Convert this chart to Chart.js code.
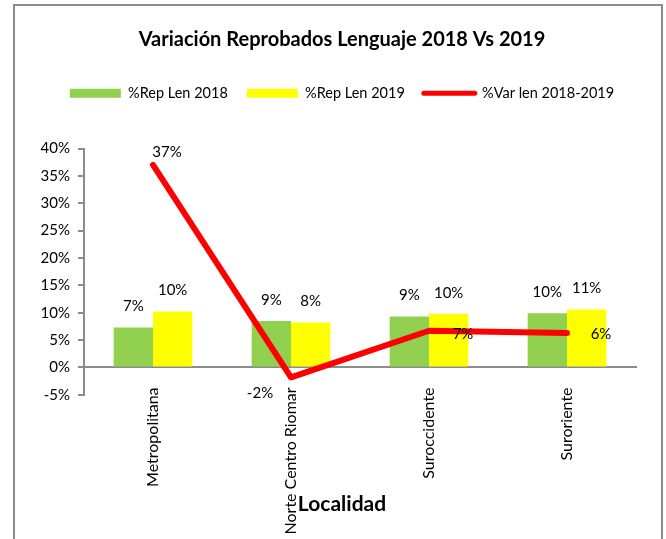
<!DOCTYPE html>
<html>
<head>
<meta charset="utf-8">
<script src="https://cdn.jsdelivr.net/npm/chart.js@4.4.1/dist/chart.umd.min.js"></script>
<style>
  html, body { margin: 0; padding: 0; background: #fff; overflow: hidden; }
  #wrap { position: relative; width: 666px; height: 539px; overflow: hidden; }
  #frame { position: absolute; left: 13px; top: 4px; width: 650px; height: 600px; box-sizing: border-box; border: 2px solid #8c8c8c; }
  #c { position: absolute; left: 0; top: 0; }
</style>
</head>
<body>
<div id="wrap">
  <div id="frame"></div>
  <canvas id="c" width="666" height="539"></canvas>
</div>
<script>
// ---- data ----
const categories = ['Metropolitana', 'Norte Centro Riomar', 'Suroccidente', 'Suroriente'];
const rep2018 = [7.3, 8.5, 9.3, 9.9];
const rep2019 = [10.2, 8.2, 9.8, 10.6];
const var2018_2019 = [37.0, -1.8, 6.7, 6.3];
const seriesNames = ['%Rep Len 2018', '%Rep Len 2019', '%Var len 2018-2019'];
const yTicks = [-5, 0, 5, 10, 15, 20, 25, 30, 35, 40];
const chartTitle = 'Variación Reprobados Lenguaje 2018 Vs 2019';
const xTitle = 'Localidad';

const FONT = 'Lato, "Open Sans", sans-serif';

const valueLabels = {
  id: 'valueLabels',
  afterDatasetsDraw(chart, args, opts) {
    const ctx = chart.ctx;
    ctx.save();
    ctx.font = '15px ' + FONT;
    ctx.fillStyle = '#000';
    ctx.textAlign = 'center';
    ctx.textBaseline = 'middle';
    chart.data.datasets.forEach((ds, di) => {
      const meta = chart.getDatasetMeta(di);
      meta.data.forEach((el, i) => {
        const v = ds.data[i];
        const txt = Math.round(v) + '%';
        let dx = 0, dy = -21;
        if (ds.type === 'line') { dx = opts.lineOffsets[i][0]; dy = opts.lineOffsets[i][1]; }
        ctx.fillText(txt, el.x + dx, el.y + dy);
      });
    });
    ctx.restore();
  }
};

new Chart(document.getElementById('c'), {
  data: {
    labels: categories,
    datasets: [
      { type: 'bar', label: seriesNames[0], data: rep2018, backgroundColor: '#92D050', borderWidth: 0,
        barPercentage: 1, categoryPercentage: 0.57, order: 2 },
      { type: 'bar', label: seriesNames[1], data: rep2019, backgroundColor: '#FFFF00', borderWidth: 0,
        barPercentage: 1, categoryPercentage: 0.57, order: 2 },
      { type: 'line', label: seriesNames[2], data: var2018_2019, borderColor: '#FF0000', backgroundColor: '#FF0000',
        borderWidth: 6, pointRadius: 0, tension: 0, borderJoinStyle: 'round', borderCapStyle: 'round', order: 1 }
    ]
  },
  options: {
    responsive: false,
    animation: false,
    layout: { padding: { left: 30, right: 12, top: 0, bottom: 0 } },
    plugins: {
      tooltip: { enabled: false },
      title: { display: true, text: chartTitle, color: '#000',
        font: { family: FONT, size: 20, weight: 'bold' }, padding: { top: 28, bottom: 15 } },
      subtitle: { display: true, position: 'bottom', text: xTitle, color: '#000',
        font: { family: FONT, size: 21, weight: 'bold' }, padding: { top: 97, bottom: 22 } },
      legend: {
        position: 'top',
        labels: {
          usePointStyle: true, pointStyleWidth: 51, boxHeight: 9, padding: 19, color: '#000',
          font: { family: FONT, size: 14.5 },
          sort: (a, b) => a.datasetIndex - b.datasetIndex,
          generateLabels: (chart) => {
            const items = Chart.defaults.plugins.legend.labels.generateLabels(chart);
            items.forEach(it => {
              const ds = chart.data.datasets[it.datasetIndex];
              if (ds.type === 'line') { it.pointStyle = 'line'; it.lineWidth = 5; it.strokeStyle = '#FF0000'; it.lineCap = 'round'; }
              else { it.pointStyle = 'rect'; it.lineWidth = 0; }
            });
            return items;
          }
        }
      },
      valueLabels: { lineOffsets: [[14, -13], [-31, 16], [34, 3], [34, 1]] }
    },
    scales: {
      x: {
        type: 'category',
        position: { y: 0 },
        offset: true,
        grid: { display: false },
        border: { display: true, color: '#8c8c8c', width: 2 },
        ticks: { autoSkip: false, minRotation: 90, maxRotation: 90, padding: 12, color: '#000',
          font: { family: FONT, size: 16 } }
      },
      xTopSpacer: {
        type: 'category',
        position: 'top',
        display: true,
        grid: { display: false },
        border: { display: false },
        ticks: { display: false },
        afterFit: (s) => { s.height = 38; }
      },
      y: {
        min: -5, max: 40,
        afterBuildTicks: (s) => { s.ticks = yTicks.map(v => ({ value: v })); },
        afterFit: (s) => { s.width = 54; },
        grid: { display: true, drawOnChartArea: false, drawTicks: true, tickLength: 6, color: '#8c8c8c', lineWidth: 2 },
        border: { display: true, color: '#8c8c8c', width: 2 },
        ticks: { padding: 8, color: '#000', font: { family: FONT, size: 15 }, callback: (v) => v + '%' }
      },
      yRightSpacer: {
        type: 'linear',
        position: 'right',
        display: true,
        grid: { display: false },
        border: { display: false },
        ticks: { display: false },
        afterFit: (s) => { s.width = 18; }
      }
    }
  },
  plugins: [valueLabels]
});
</script>
</body>
</html>
